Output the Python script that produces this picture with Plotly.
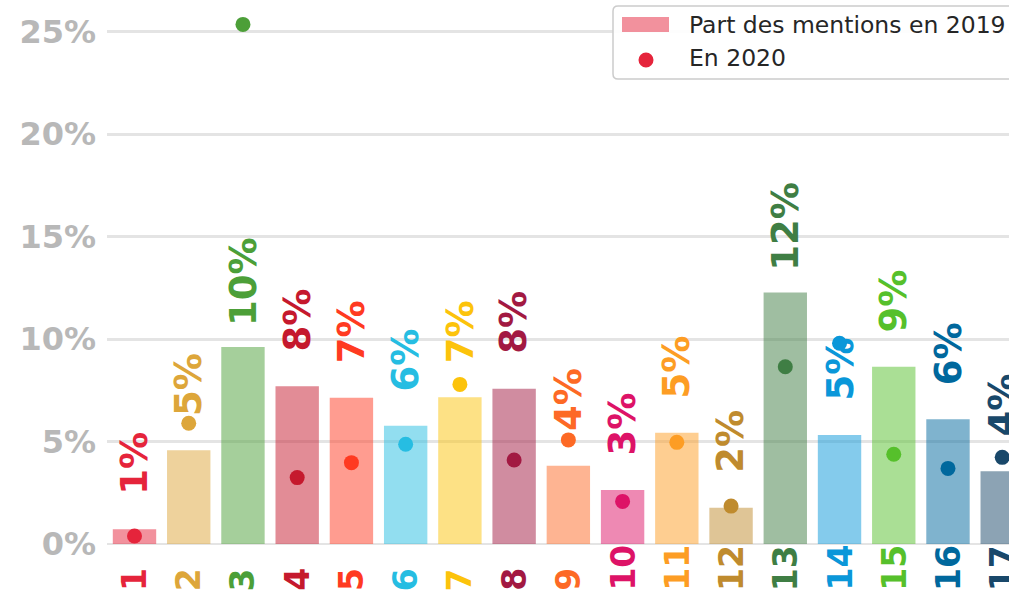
import plotly.graph_objects as go

# ---- data ----
categories = list(range(1, 18))
category_labels = [str(c) for c in categories]
sdg_colors = ["#E5243B", "#DDA63A", "#4C9F38", "#C5192D", "#FF3A21", "#26BDE2",
              "#FCC30B", "#A21942", "#FD6925", "#DD1367", "#FD9D24", "#BF8B2E",
              "#3F7E44", "#0A97D9", "#56C02B", "#00689D", "#19486A"]
share_2019 = [0.72, 4.57, 9.61, 7.70, 7.14, 5.77, 7.16, 7.58, 3.82, 2.64,
              5.43, 1.77, 12.28, 5.32, 8.65, 6.09, 3.55]
share_2020 = [0.39, 5.89, 25.36, 3.24, 3.97, 4.87, 7.79, 4.10, 5.08, 2.08,
              4.96, 1.85, 8.65, 9.80, 4.38, 3.69, 4.23]
y_ticks = [0, 5, 10, 15, 20, 25]
y_tick_labels = ["0%", "5%", "10%", "15%", "20%", "25%"]
legend_labels = ["Part des mentions en 2019", "En 2020"]


def rgba(hex_color, a):
    h = hex_color.lstrip("#")
    r, g, b = int(h[0:2], 16), int(h[2:4], 16), int(h[4:6], 16)
    return f"rgba({r},{g},{b},{a})"


W, H = 1009, 590
ML, MR, MT, MB = 107, 0, 0, 46
PW, PH = W - ML - MR, H - MT - MB
FONT = "DejaVu Sans"


def px(x):
    return (x - ML) / PW


def py(y):
    return (H - MB - y) / PH


fig = go.Figure()
fig.add_trace(go.Bar(
    x=categories, y=share_2019, width=0.8,
    marker=dict(color=[rgba(c, 0.5) for c in sdg_colors], line=dict(width=0)),
    name=legend_labels[0], showlegend=False, hoverinfo="skip",
))
fig.add_trace(go.Scatter(
    x=categories, y=share_2020, mode="markers",
    marker=dict(color=sdg_colors, size=15, line=dict(width=0)),
    name=legend_labels[1], showlegend=False, cliponaxis=False,
))

annotations = []
# value labels above bars
for c, v, col in zip(categories, share_2019, sdg_colors):
    annotations.append(dict(
        x=c, y=v, xref="x", yref="y", text=f"{round(v):.0f}%", showarrow=False,
        textangle=-90, xanchor="center", yanchor="middle", yshift=66,
        font=dict(family=FONT, size=37, color=col, weight="bold"),
    ))
# category tick labels
for c, lab, col in zip(categories, category_labels, sdg_colors):
    annotations.append(dict(
        x=c, y=py(593), xref="x", yref="paper", text=lab, showarrow=False,
        textangle=-90, xanchor="center", yanchor="bottom",
        font=dict(family=FONT, size=33, color=col, weight="bold"),
    ))

# manual legend
lx0, lx1, ly0, ly1, rad = 613, 1020, 6, 79, 5
legend_path = (
    f"M {px(lx0 + rad)} {py(ly0)} L {px(lx1)} {py(ly0)} L {px(lx1)} {py(ly1)} "
    f"L {px(lx0 + rad)} {py(ly1)} Q {px(lx0)} {py(ly1)} {px(lx0)} {py(ly1 - rad)} "
    f"L {px(lx0)} {py(ly0 + rad)} Q {px(lx0)} {py(ly0)} {px(lx0 + rad)} {py(ly0)} Z"
)
shapes = [
    dict(type="path", xref="paper", yref="paper", path=legend_path,
         fillcolor="rgba(255,255,255,0.92)", line=dict(color="#cccccc", width=1.5),
         layer="above"),
    dict(type="rect", xref="paper", yref="paper",
         x0=px(622), x1=px(669), y0=py(17), y1=py(32),
         fillcolor=rgba(sdg_colors[0], 0.5), line=dict(width=0), layer="above"),
    dict(type="circle", xref="paper", yref="paper",
         x0=px(638.5), x1=px(653.5), y0=py(52.5), y1=py(67.5),
         fillcolor=sdg_colors[0], line=dict(width=0), layer="above"),
]
for lab, yc in zip(legend_labels, [25, 58]):
    annotations.append(dict(
        x=px(687), y=py(yc), xref="paper", yref="paper", text=lab, showarrow=False,
        xanchor="left", yanchor="middle",
        font=dict(family=FONT, size=23.5, color="#262626"),
    ))

fig.update_layout(
    width=W, height=H,
    margin=dict(l=ML, r=MR, t=MT, b=MB, pad=0),
    paper_bgcolor="white", plot_bgcolor="white",
    showlegend=False,
    annotations=annotations, shapes=shapes,
    xaxis=dict(range=[0.493, 17.125], showticklabels=False, showgrid=False,
               zeroline=False, showline=False, ticks="", fixedrange=True),
    yaxis=dict(range=[0, 26.55], tickmode="array", tickvals=y_ticks,
               ticktext=y_tick_labels,
               showgrid=True, gridcolor="#e4e4e4", gridwidth=2.8,
               zeroline=True, zerolinecolor="#e4e4e4", zerolinewidth=2.8,
               showline=False, ticks="", ticklabelstandoff=10,
               tickfont=dict(family=FONT, size=32, color="#b8b8b8", weight="bold"),
               fixedrange=True),
)

fig.write_html(
    "out.html",
    config={"displayModeBar": False, "staticPlot": True},
    post_script="document.body.style.margin='0';document.body.style.overflow='hidden';",
)
